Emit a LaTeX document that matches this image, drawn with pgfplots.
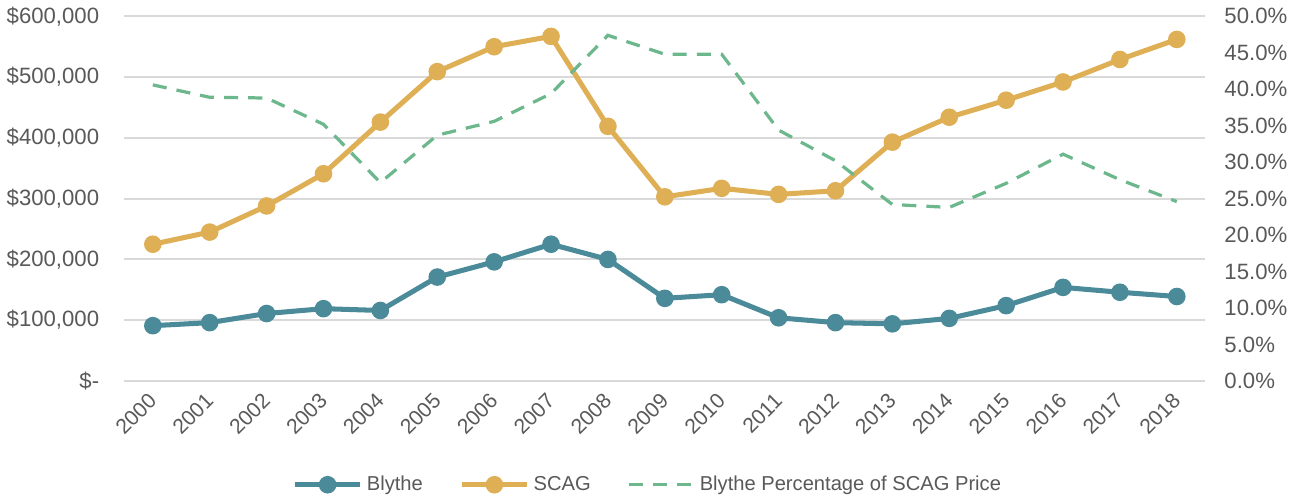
\documentclass[border=0pt]{standalone}
\usepackage{fontspec}
\setmainfont{Liberation Sans}
\usepackage{pgfplots}
\pgfplotsset{compat=1.18}
\definecolor{blythe}{HTML}{4A8A99}
\definecolor{scag}{HTML}{DFAF55}
\definecolor{pct}{HTML}{6DB78C}
\definecolor{txt}{HTML}{595959}
\definecolor{gridc}{HTML}{D9D9D9}
\begin{document}
\begin{tikzpicture}
\pgfplotsset{
  base/.style={
    width=536.5pt, height=181pt, scale only axis,
    xmin=-0.5, xmax=18.5,
    axis line style={draw=none},
    tick style={draw=none},
    xmajorgrids=false,
    scaled ticks=false,
    ticklabel style={font=\fontsize{11}{13}\selectfont, text=txt},
  }
}
\begin{axis}[
  base,
  ymin=0, ymax=600000,
  ytick={0,100000,200000,300000,400000,500000,600000},
  yticklabels={\$-\hspace{7pt},{\$100,000},{\$200,000},{\$300,000},{\$400,000},{\$500,000},{\$600,000}},
  yticklabel style={xshift=-9pt},
  ymajorgrids, grid style={draw=gridc, line width=1pt},
  xtick={0,...,18},
  xticklabels={2000,2001,2002,2003,2004,2005,2006,2007,2008,2009,2010,2011,2012,2013,2014,2015,2016,2017,2018},
  xticklabel style={font=\fontsize{10.5}{12}\selectfont, xshift=0pt, yshift=-8pt, rotate=45, anchor=east, inner sep=0pt},
  legend style={at={(0.5,0)}, anchor=center, yshift=-51.5pt, xshift=-8pt, draw=none, legend columns=3,
    font=\fontsize{10}{12}\selectfont, text=txt,
    /tikz/every even column/.append style={column sep=16pt}},
  legend image code/.code={
    \draw[mark repeat=2, mark phase=2, #1] plot coordinates {(0pt,0pt)(16.25pt,0pt)(32.5pt,0pt)};
  },
]
\addplot[blythe, line width=2.5pt, mark=*, mark size=3.1pt, mark options={solid}] coordinates {
(0,91000)(1,96000)(2,111000)(3,119000)(4,116000)(5,171000)(6,196000)(7,225000)(8,200000)(9,136000)
(10,142000)(11,104000)(12,96000)(13,94000)(14,103000)(15,124000)(16,154000)(17,146000)(18,139000)
};
\addlegendentry{Blythe}
\addplot[scag, line width=2.5pt, mark=*, mark size=3.1pt, mark options={solid}] coordinates {
(0,225000)(1,245000)(2,288000)(3,341000)(4,426000)(5,509000)(6,550000)(7,567000)(8,419000)(9,303000)
(10,317000)(11,307000)(12,313000)(13,393000)(14,434000)(15,462000)(16,492000)(17,529000)(18,562000)
};
\addlegendentry{SCAG}
\addlegendimage{pct, line width=1.6pt, dash pattern=on 7pt off 5pt, no marks}
\addlegendentry{Blythe Percentage of SCAG Price}
\end{axis}
\begin{axis}[
  base,
  ymin=0, ymax=0.5,
  axis y line*=right,
  axis x line=none,
  ytick={0,0.05,0.1,0.15,0.2,0.25,0.3,0.35,0.4,0.45,0.5},
  yticklabels={0.0\%,5.0\%,10.0\%,15.0\%,20.0\%,25.0\%,30.0\%,35.0\%,40.0\%,45.0\%,50.0\%},
  yticklabel style={anchor=west, xshift=6pt},
]
\addplot[pct, line width=1.6pt, dash pattern=on 7pt off 5pt, no marks] coordinates {
(0,0.406)(1,0.389)(2,0.388)(3,0.352)(4,0.272)(5,0.337)(6,0.356)(7,0.394)(8,0.474)(9,0.448)
(10,0.448)(11,0.344)(12,0.302)(13,0.242)(14,0.238)(15,0.271)(16,0.311)(17,0.276)(18,0.246)
};
\end{axis}
\end{tikzpicture}
\end{document}
